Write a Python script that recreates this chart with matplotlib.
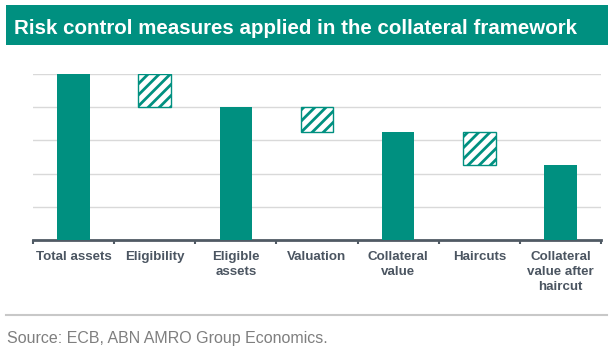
import numpy as np
import matplotlib
matplotlib.use('Agg')
from matplotlib import pyplot as plt
from matplotlib.patches import Rectangle

# chart data (waterfall: solid = level, hatched = reduction)
categories = ['Total assets', 'Eligibility', 'Eligible\nassets', 'Valuation',
              'Collateral\nvalue', 'Haircuts', 'Collateral\nvalue after\nhaircut']
bar_bottom = [0, 4, 0, 3.25, 0, 2.25, 0]
bar_top = [5, 5, 4, 4, 3.25, 3.25, 2.25]
is_step = [False, True, False, True, False, True, False]

teal = '#009080'
label_grey = '#4b5561'

plt.rcParams['font.family'] = ['Liberation Sans', 'DejaVu Sans']
plt.rcParams['hatch.linewidth'] = 2.0
plt.rcParams['hatch.color'] = teal

W, H = 616, 353
fig = plt.figure(figsize=(W / 100, H / 100), dpi=100)

# title banner
fig.patches.append(Rectangle((6 / W, 1 - 45 / H), 602 / W, 40 / H, transform=fig.transFigure,
                             facecolor=teal, edgecolor='none'))
fig.text(14 / W, 1 - 34 / H, 'Risk control measures applied in the collateral framework',
         color='white', fontsize=14.8, fontweight='bold', va='baseline', ha='left')

ax = fig.add_axes([33 / W, 1 - 240 / H, 568 / W, 166 / H])
x = np.arange(len(categories))
heights = [t - b for t, b in zip(bar_top, bar_bottom)]
for xi, b, h, step in zip(x, bar_bottom, heights, is_step):
    if step:
        ax.bar(xi, h, bottom=b, width=0.4, facecolor='white', edgecolor=teal,
               linewidth=1, hatch='///', zorder=3)
    else:
        ax.bar(xi, h, bottom=b, width=0.4, color=teal, zorder=3)

ax.set_xlim(-0.5, len(categories) - 0.5)
ax.set_ylim(0, 5)
ax.set_yticks(np.arange(0, 6, 1))
ax.yaxis.grid(True, color='#d9d9d9', linewidth=1)
ax.tick_params(axis='y', left=False, labelleft=False)
ax.set_xticks(x)
ax.set_xticklabels(categories, fontsize=9.6, fontweight='bold', color=label_grey, linespacing=1.3)
ax.set_xticks(np.arange(-0.5, len(categories), 1), minor=True)
ax.tick_params(axis='x', which='major', length=0, pad=8)
ax.tick_params(axis='x', which='minor', length=3, width=1.5, color='#505a64', direction='out')
for s in ['top', 'right', 'left']:
    ax.spines[s].set_visible(False)
ax.spines['bottom'].set_color('#505a64')
ax.spines['bottom'].set_linewidth(2)

# separator and source
fig.add_artist(plt.Line2D([6 / W, 607 / W], [1 - 315 / H, 1 - 315 / H], transform=fig.transFigure,
                          color='#c8c8c8', linewidth=1.5))
fig.text(7 / W, 1 - 343 / H, 'Source: ECB, ABN AMRO Group Economics.', color='#7f7f7f',
         fontsize=11.5, va='baseline', ha='left')

fig.savefig('out.png', dpi=100)
